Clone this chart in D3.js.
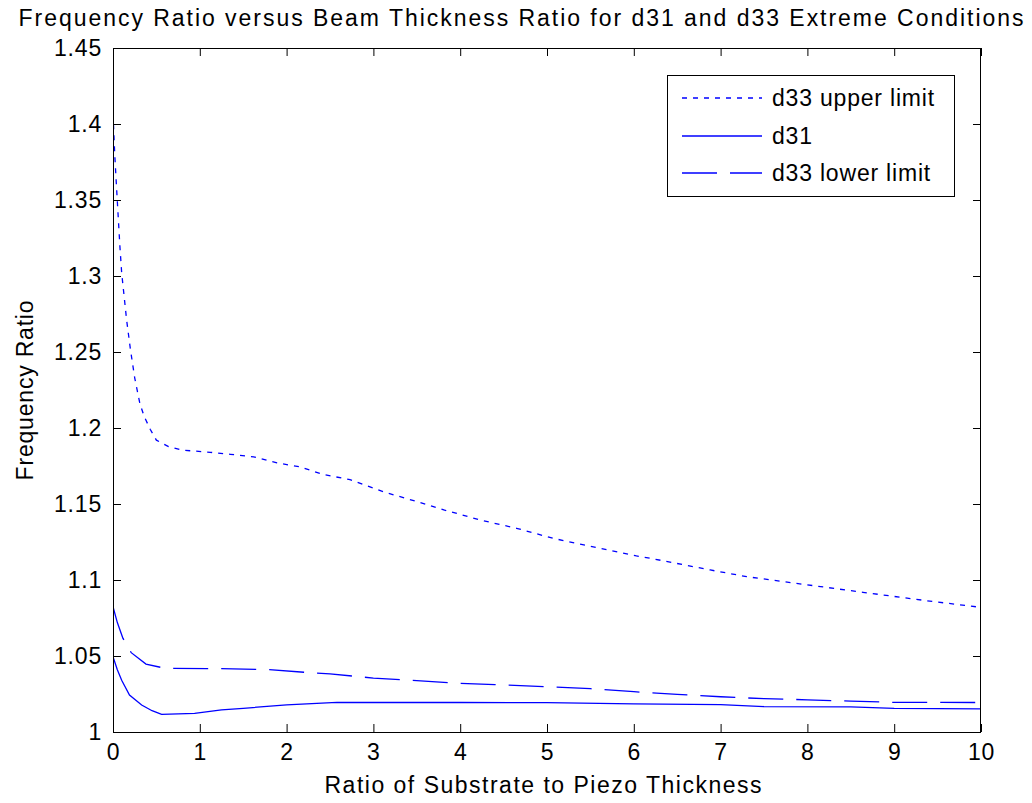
<!DOCTYPE html>
<html>
<head>
<meta charset="utf-8">
<script src="https://cdn.jsdelivr.net/npm/d3@7"></script>
<style>
  html, body { margin: 0; padding: 0; background: #fff; }
  svg text { font-family: "Liberation Sans", Arial, sans-serif; fill: #000; }
</style>
</head>
<body>
<svg id="chart" width="1032" height="803"></svg>
<script>
// ---- data ----
const xTickValues = [0, 1, 2, 3, 4, 5, 6, 7, 8, 9, 10];
const xTickLabels = ["0", "1", "2", "3", "4", "5", "6", "7", "8", "9", "10"];
const yTickValues = [1, 1.05, 1.1, 1.15, 1.2, 1.25, 1.3, 1.35, 1.4, 1.45];
const yTickLabels = ["1", "1.05", "1.1", "1.15", "1.2", "1.25", "1.3", "1.35", "1.4", "1.45"];

const seriesNames = ["d33 upper limit", "d31", "d33 lower limit"];

const upperX = [0, 0.02, 0.04, 0.08, 0.10, 0.157, 0.2, 0.25, 0.31, 0.36, 0.43, 0.5, 0.64, 0.79, 1.12, 1.35, 1.62, 1.89, 2.15, 2.42, 2.73, 3.13, 3.54, 3.82, 4.23, 4.65, 5.07, 5.61, 6.03, 6.19, 6.88, 7.30, 7.95, 8.64, 9.37, 10];
const upperY = [1.407, 1.38, 1.359, 1.319, 1.302, 1.271, 1.252, 1.233, 1.216, 1.2075, 1.199, 1.192, 1.1877, 1.1855, 1.184, 1.1827, 1.181, 1.177, 1.1745, 1.1695, 1.166, 1.1577, 1.151, 1.146, 1.1395, 1.134, 1.1274, 1.1209, 1.1158, 1.1143, 1.1066, 1.1022, 1.0972, 1.0919, 1.0864, 1.082];

const d31X = [0, 0.05, 0.1, 0.19, 0.33, 0.45, 0.56, 0.94, 1.25, 1.5, 2.0, 2.58, 3, 4, 5, 6, 7, 7.5, 8.5, 9, 10];
const d31Y = [1.0495, 1.041, 1.034, 1.0243, 1.0178, 1.014, 1.0116, 1.0123, 1.0145, 1.0156, 1.0178, 1.0195, 1.0194, 1.0194, 1.0193, 1.0185, 1.018, 1.0167, 1.0165, 1.0155, 1.0152];

const lowerX = [0, 0.05, 0.115, 0.21, 0.38, 0.6, 1.2, 1.8, 2.2, 2.5, 3.0, 3.5, 4.0, 4.4, 5.0, 5.5, 6.0, 6.5, 7.0, 7.5, 8.0, 8.5, 9.0, 10];
const lowerY = [1.0824, 1.072, 1.0616, 1.0522, 1.0447, 1.0419, 1.0417, 1.041, 1.0393, 1.0382, 1.0355, 1.0338, 1.032, 1.0312, 1.0298, 1.0285, 1.0265, 1.0248, 1.0232, 1.0219, 1.0212, 1.0203, 1.0195, 1.0194];

const titleText = "Frequency Ratio versus Beam Thickness Ratio for d31 and d33 Extreme Conditions";
const xLabelText = "Ratio of Substrate to Piezo Thickness";
const yLabelText = "Frequency Ratio";

// ---- layout ----
const L = 113, R = 981, T = 48, B = 732;
const svg = d3.select("#chart");
const x = d3.scaleLinear().domain([0, 10]).range([L, R]);
const y = d3.scaleLinear().domain([1, 1.45]).range([B, T]);

const fontSize = "23px";
const letterSp = "0.8px";
const blue = "#0000ff";
const lw = 1.3;

// lines
svg.append("clipPath").attr("id", "plotclip")
  .append("rect").attr("x", L).attr("y", T).attr("width", R - L).attr("height", B - T);

const line = d3.line().x(d => x(d[0])).y(d => y(d[1]));
const series = [
  { name: seriesNames[0], xs: upperX, ys: upperY, dash: "5,6" },
  { name: seriesNames[1], xs: d31X, ys: d31Y, dash: null },
  { name: seriesNames[2], xs: lowerX, ys: lowerY, dash: "35,13" }
];

const g = svg.append("g").attr("clip-path", "url(#plotclip)");
series.forEach(s => {
  const pts = s.xs.map((v, i) => [v, s.ys[i]]);
  g.append("path").attr("d", line(pts))
    .attr("fill", "none").attr("stroke", blue).attr("stroke-width", lw)
    .attr("stroke-dasharray", s.dash);
});

// axes (ticks inward on all sides)
const tickLen = 8;
const axL = d3.axisLeft(y).tickValues(yTickValues).tickFormat((d, i) => yTickLabels[i]).tickSizeInner(-tickLen).tickSizeOuter(0).tickPadding(11);
const axR = d3.axisRight(y).tickValues(yTickValues).tickFormat("").tickSizeInner(-tickLen).tickSizeOuter(0);
const axB = d3.axisBottom(x).tickValues(xTickValues).tickFormat((d, i) => xTickLabels[i]).tickSizeInner(-tickLen).tickSizeOuter(0).tickPadding(12);
const axT = d3.axisTop(x).tickValues(xTickValues).tickFormat("").tickSizeInner(-tickLen).tickSizeOuter(0);

function styleAxis(sel) {
  sel.select(".domain").remove();
  sel.selectAll(".tick line").attr("stroke", "#000").attr("stroke-width", 1);
  sel.selectAll("text").style("font-size", fontSize).style("letter-spacing", letterSp)
    .style("font-family", "'Liberation Sans', Arial, sans-serif").attr("fill", "#000");
}
svg.append("g").attr("transform", `translate(${L},0)`).call(axL).call(styleAxis);
svg.append("g").attr("transform", `translate(${R},0)`).call(axR).call(styleAxis);
svg.append("g").attr("transform", `translate(0,${B})`).call(axB).call(styleAxis);
svg.append("g").attr("transform", `translate(0,${T})`).call(axT).call(styleAxis);

svg.append("rect").attr("x", L + 0.5).attr("y", T + 0.5).attr("width", R - L - 1).attr("height", B - T)
  .attr("fill", "none").attr("stroke", "#000").attr("stroke-width", 1);

// titles
svg.append("text").attr("x", 521).attr("y", 26).attr("text-anchor", "middle")
  .attr("textLength", 1005).attr("lengthAdjust", "spacing")
  .style("font-size", fontSize).text(titleText);
svg.append("text").attr("x", 543).attr("y", 793).attr("text-anchor", "middle")
  .attr("textLength", 437).attr("lengthAdjust", "spacing")
  .style("font-size", fontSize).text(xLabelText);
svg.append("text").attr("transform", `translate(33,${(T + B) / 2}) rotate(-90)`).attr("text-anchor", "middle")
  .style("font-size", fontSize).style("letter-spacing", letterSp).text(yLabelText);

// legend
const lg = svg.append("g");
lg.append("rect").attr("x", 667.5).attr("y", 75.5).attr("width", 287).attr("height", 121)
  .attr("fill", "#fff").attr("stroke", "#000").attr("stroke-width", 1);
const rowY = [98, 136, 173];
series.forEach((s, i) => {
  lg.append("line").attr("x1", 682).attr("x2", 762).attr("y1", rowY[i]).attr("y2", rowY[i])
    .attr("stroke", blue).attr("stroke-width", lw).attr("stroke-dasharray", s.dash);
  lg.append("text").attr("x", 772).attr("y", rowY[i] + 8)
    .style("font-size", fontSize).style("letter-spacing", letterSp).text(s.name);
});
</script>
</body>
</html>
